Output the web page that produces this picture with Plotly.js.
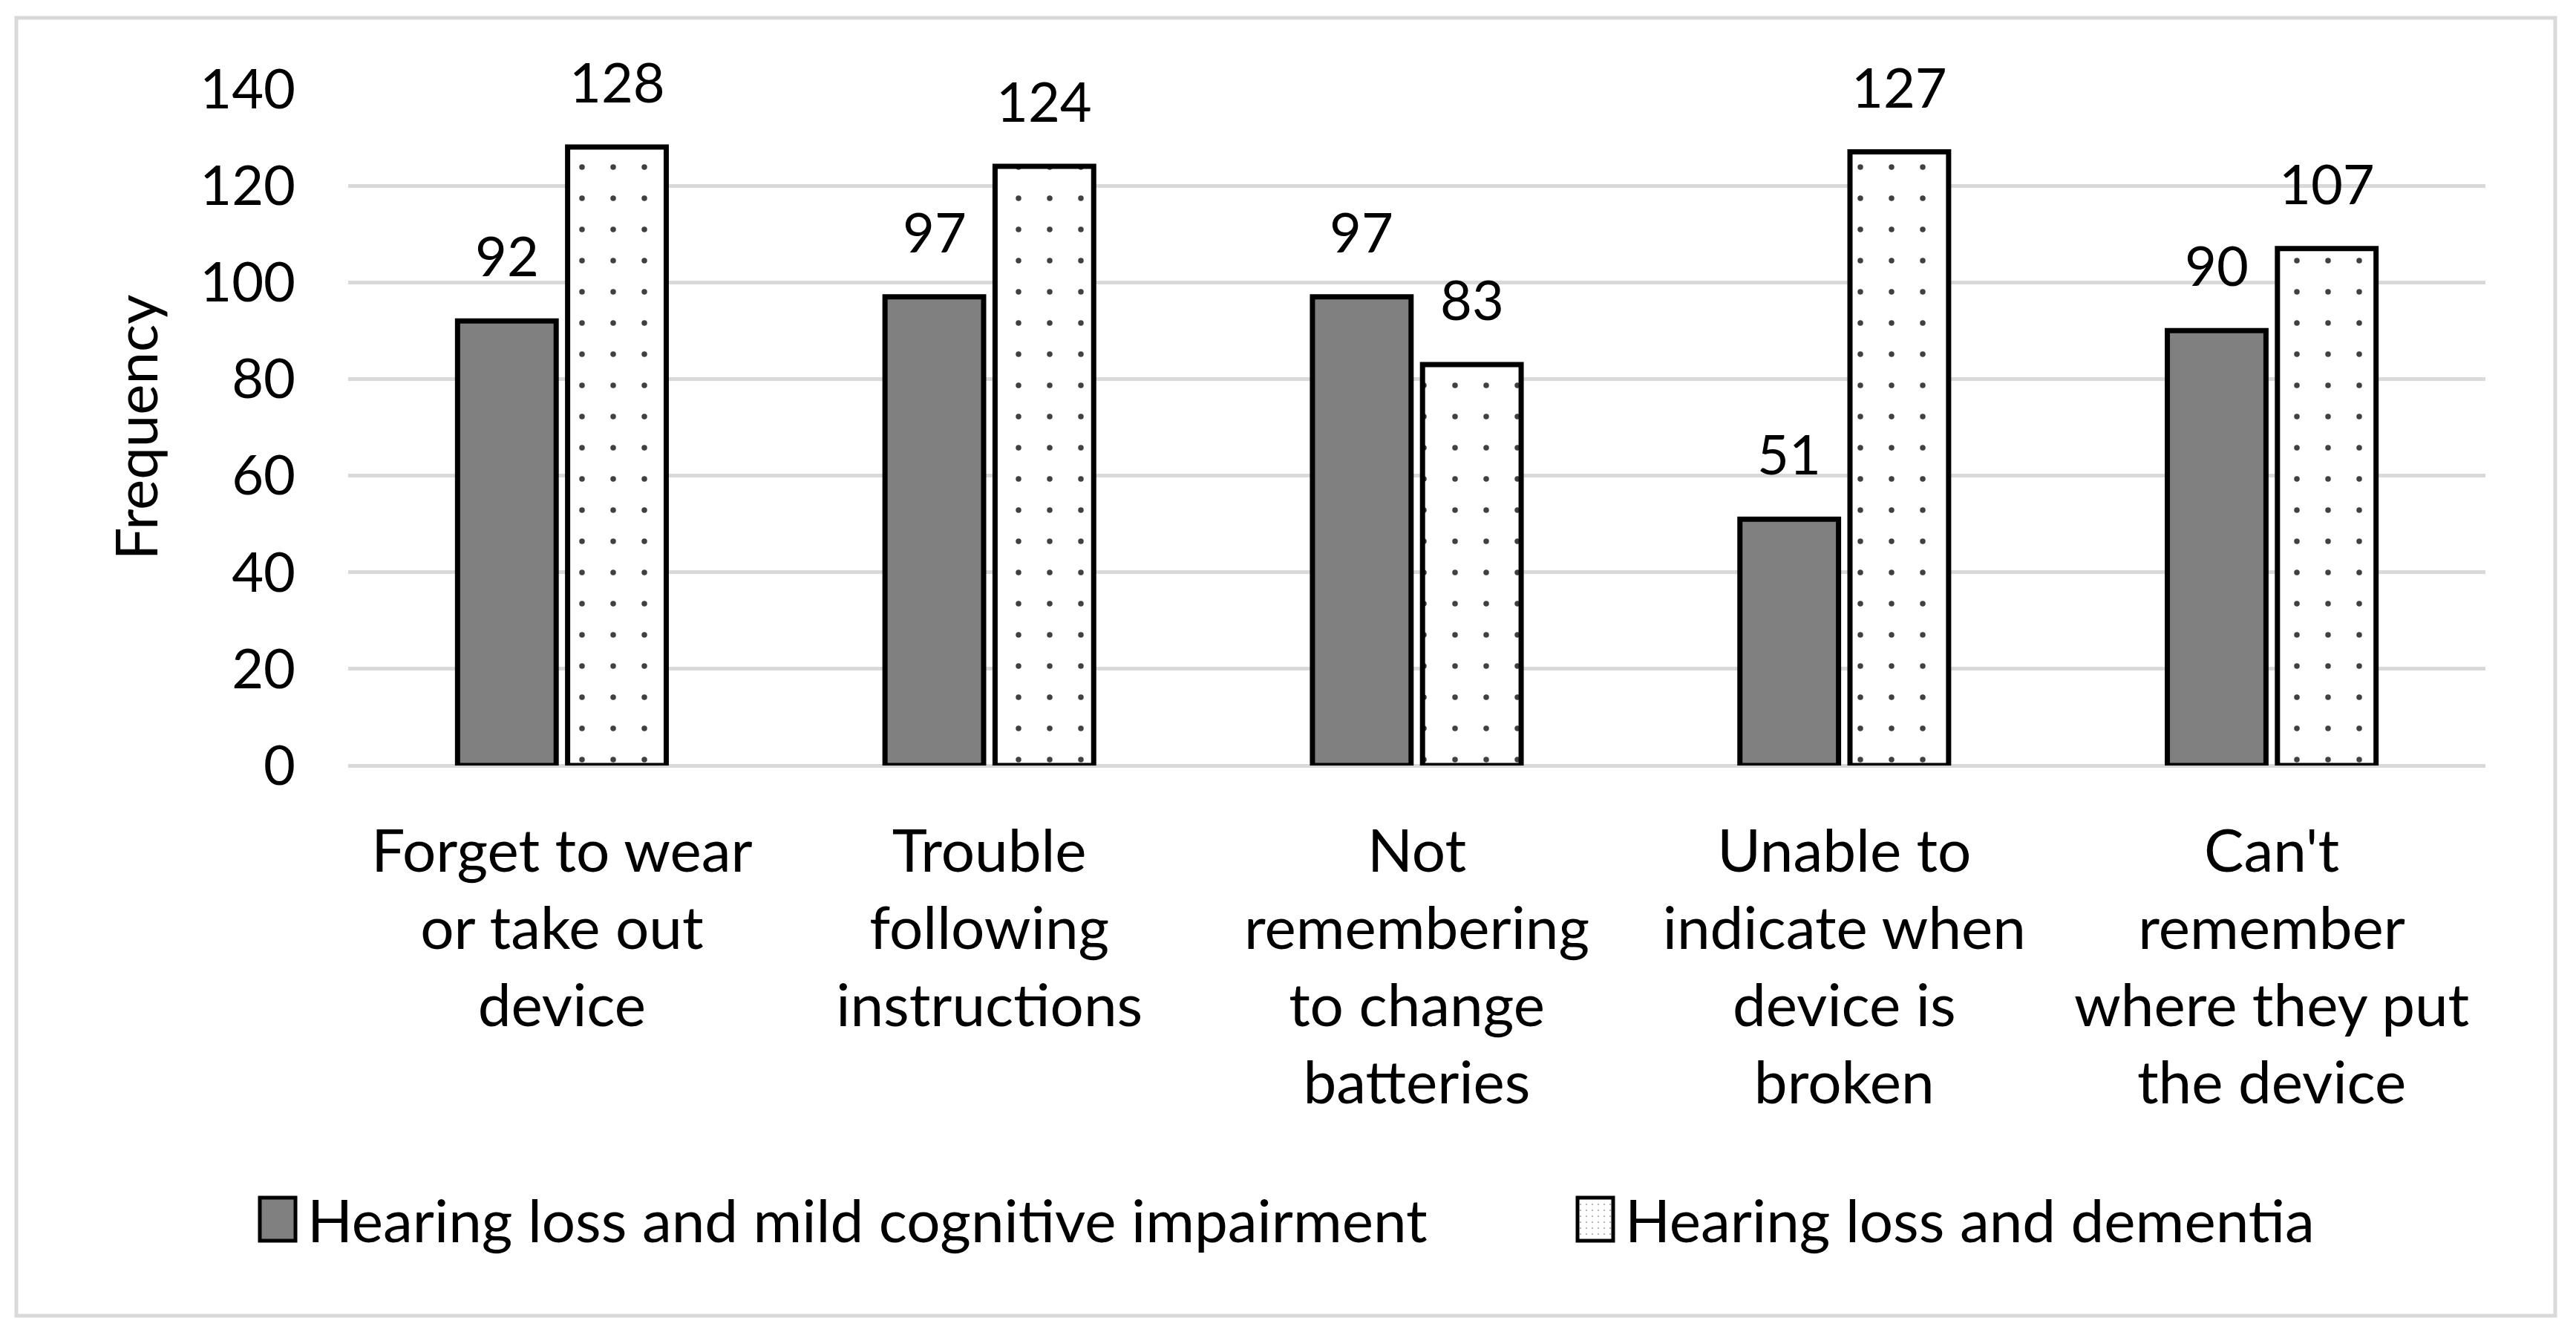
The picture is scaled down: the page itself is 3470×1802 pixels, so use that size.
<!DOCTYPE html>
<html>
<head>
<meta charset="utf-8">
<script src="https://cdn.plot.ly/plotly-3.0.1.min.js"></script>
<style>
  html, body { margin: 0; padding: 0; background: #fff; }
  #chart { width: 3470px; height: 1802px; }
</style>
</head>
<body>
<div id="chart"></div>
<script>
var categories = [
  "Forget to wear<br>or take out<br>device",
  "Trouble<br>following<br>instructions",
  "Not<br>remembering<br>to change<br>batteries",
  "Unable to<br>indicate when<br>device is<br>broken",
  "Can't<br>remember<br>where they put<br>the device"
];
var mciCounts = [92, 97, 97, 51, 90];
var dementiaCounts = [128, 124, 83, 127, 107];
var seriesNames = ["Hearing loss and mild cognitive impairment", "Hearing loss and dementia"];
var yTicks = [0, 20, 40, 60, 80, 100, 120, 140];

var FONT = "Lato, 'Open Sans', sans-serif";
var plotLeft = 469, plotRight = 3348, plotTop = 120, plotBottom = 1031;
var W = 3470, H = 1802;
var plotW = plotRight - plotLeft, plotH = plotBottom - plotTop;
var bargap = 0.485, bargroupgap = 0.104;
// offset of each bar centre from its category centre, in px
var barShift = plotW / categories.length * (1 - bargap) / 4;

var xIdx = categories.map(function(c, i){ return i; });

var mci = {
  type: 'bar',
  name: seriesNames[0],
  x: categories,
  y: mciCounts,
  marker: { color: '#808080', line: { color: '#000', width: 7 } },
  legend: 'legend',
  hoverinfo: 'skip'
};

var dem = {
  type: 'bar',
  name: seriesNames[1],
  x: categories,
  y: dementiaCounts,
  marker: {
    color: '#ffffff',
    line: { color: '#000', width: 7 },
    pattern: { shape: '.', bgcolor: '#ffffff', fgcolor: '#404040', size: 42, solidity: 0.025, fillmode: 'replace' }
  },
  legend: 'legend2',
  hoverinfo: 'skip'
};

var annotations = [];
xIdx.forEach(function(i){
  annotations.push({
    x: i, y: mciCounts[i], xref: 'x', yref: 'y', text: String(mciCounts[i]),
    showarrow: false, yanchor: 'bottom', xanchor: 'center', xshift: -barShift, yshift: 42,
    font: { family: FONT, size: 74, color: '#000' }
  });
  annotations.push({
    x: i, y: dementiaCounts[i], xref: 'x', yref: 'y', text: String(dementiaCounts[i]),
    showarrow: false, yanchor: 'bottom', xanchor: 'center', xshift: barShift, yshift: 42,
    font: { family: FONT, size: 74, color: '#000' }
  });
});

// light grey frame around the whole chart
var frame = {
  type: 'rect', xref: 'paper', yref: 'paper',
  x0: (22 - plotLeft) / plotW, x1: (3442 - plotLeft) / plotW,
  y0: (plotBottom - 1772) / plotH, y1: (plotBottom - 24) / plotH,
  line: { color: '#d9d9d9', width: 5 }, fillcolor: 'rgba(0,0,0,0)', layer: 'below'
};

var layout = {
  width: W, height: H,
  paper_bgcolor: '#fff', plot_bgcolor: '#fff',
  margin: { l: plotLeft, r: W - plotRight, t: plotTop, b: H - plotBottom, autoexpand: false },
  font: { family: FONT, size: 80, color: '#000' },
  barmode: 'group', bargap: bargap, bargroupgap: bargroupgap,
  xaxis: {
    type: 'category',
    tickfont: { family: FONT, size: 80, color: '#000' },
    showgrid: false, showline: false, ticks: '',
    ticklabelstandoff: 62,
    automargin: false
  },
  yaxis: {
    range: [0, 140], tickvals: yTicks, ticktext: yTicks.map(String),
    tickfont: { family: FONT, size: 74, color: '#000' },
    showgrid: true, gridcolor: '#d9d9d9', gridwidth: 5,
    zeroline: true, zerolinecolor: '#d9d9d9', zerolinewidth: 5,
    showline: false, ticks: '',
    ticklabelstandoff: 70,
    title: { text: 'Frequency', font: { family: FONT, size: 78, color: '#000' }, standoff: 30 },
    automargin: false
  },
  showlegend: true,
  legend: {
    orientation: 'h', xref: 'container', yref: 'container',
    x: 334 / W, xanchor: 'left', y: 1 - 1642 / H, yanchor: 'middle',
    font: { family: FONT, size: 80, color: '#000' }, itemwidth: 70, bgcolor: 'rgba(0,0,0,0)'
  },
  legend2: {
    orientation: 'h', xref: 'container', yref: 'container',
    x: 2109 / W, xanchor: 'left', y: 1 - 1642 / H, yanchor: 'middle',
    font: { family: FONT, size: 80, color: '#000' }, itemwidth: 70, bgcolor: 'rgba(0,0,0,0)'
  },
  annotations: annotations,
  shapes: [frame]
};

Plotly.newPlot('chart', [mci, dem], layout, { staticPlot: true }).then(function(){
  // enlarge the legend swatches to the size used in the original
  document.querySelectorAll('.legendpoints path').forEach(function(p){
    p.setAttribute('d', 'M24,29H-24V-29H24Z');
  });
});
</script>
</body>
</html>
